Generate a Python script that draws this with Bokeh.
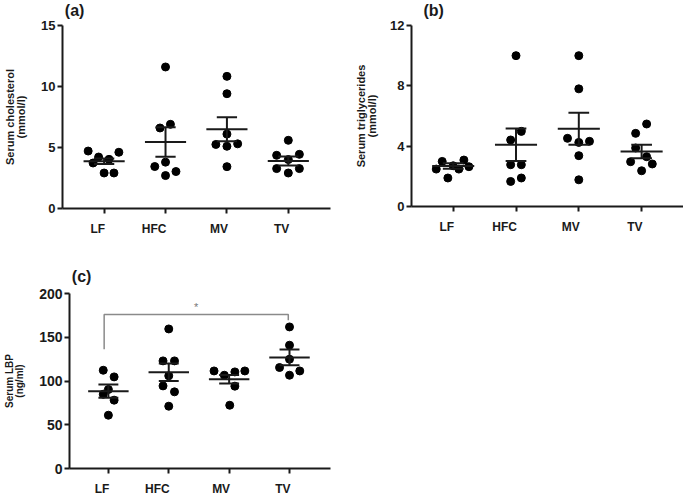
import numpy as np
from bokeh.plotting import figure
from bokeh.layouts import row, column
from bokeh.models import Range1d, FixedTicker, Label
from bokeh.core.properties import value
from bokeh.embed import file_html
from bokeh.resources import INLINE

# ---------------- data ----------------
groups = ["LF", "HFC", "MV", "TV"]

# (a) serum cholesterol (mmol/l)
chol_LF = [4.71, 3.73, 4.22, 4.03, 4.61, 2.91, 2.91]
chol_HFC = [11.6, 6.6, 6.9, 3.44, 3.8, 2.7, 3.03]
chol_MV = [10.83, 9.41, 6.1, 5.25, 5.1, 5.3, 3.43]
chol_TV = [5.59, 4.36, 4.44, 4.01, 3.27, 3.27, 2.91]
chol_mean = [3.87, 5.45, 6.49, 3.90]
chol_sem = [0.22, 1.2, 0.98, 0.37]
chol_ticks = [0, 5, 10, 15]

# (b) serum triglycerides (mmol/l)
tg_LF = [2.48, 2.99, 1.89, 2.70, 2.48, 3.08, 2.64]
tg_HFC = [10.0, 4.98, 4.41, 2.77, 2.77, 1.66, 1.89]
tg_MV = [10.0, 7.8, 4.52, 4.25, 4.32, 3.37, 1.77]
tg_TV = [5.47, 4.85, 3.88, 3.30, 2.97, 2.82, 2.37]
tg_mean = [2.68, 4.09, 5.15, 3.65]
tg_sem = [0.18, 1.08, 1.06, 0.45]
tg_ticks = [0, 4, 8, 12]

# (c) serum LBP (ng/ml)
lbp_LF = [112.3, 104.7, 90.3, 84.9, 78.1, 60.9]
lbp_HFC = [159.5, 123.0, 123.0, 105.9, 94.4, 87.6, 71.2]
lbp_MV = [111.5, 106.6, 110.4, 111.5, 94.1, 72.3]
lbp_TV = [161.8, 140.9, 124.9, 115.4, 111.5, 106.6]
lbp_mean = [88.4, 110.0, 102.0, 126.9]
lbp_sem = [7.6, 10.0, 4.8, 9.0]
lbp_ticks = [0, 50, 100, 150, 200]

# significance bracket LF vs TV (y levels in ng/ml)
sig_top = 176.0
sig_left_end = 136.4
sig_right_end = 169.5
sig_text = "*"

# horizontal scatter spread of the points (category units)
jit_a = [[-0.26, -0.18, -0.09, 0.08, 0.24, 0.0, 0.16],
         [0.0, -0.09, 0.08, -0.175, 0.0, 0.0, 0.17],
         [0.0, 0.0, 0.0, -0.18, 0.0, 0.175, 0.0],
         [0.0, -0.19, 0.18, 0.0, -0.19, 0.18, 0.0]]
jit_b = [[-0.27, -0.175, -0.085, 0.0, 0.09, 0.17, 0.25],
         [0.0, 0.085, -0.085, -0.085, 0.085, -0.085, 0.085],
         [0.0, 0.0, -0.18, 0.0, 0.17, 0.0, 0.0],
         [0.08, -0.095, -0.095, 0.08, -0.175, 0.17, 0.0]]
jit_c = [[-0.085, 0.095, 0.0, -0.085, 0.095, 0.0],
         [0.0, -0.095, 0.095, 0.0, -0.095, 0.095, 0.0],
         [-0.25, -0.08, 0.095, 0.26, 0.095, 0.01],
         [0.0, 0.0, 0.0, -0.165, 0.17, 0.0]]

FONT = "Liberation Sans"
INK = "#1a1a1a"


def blank(width, height, xr, yr, bl=0, br=0):
    f = figure(width=width, height=height, output_backend="svg",
               toolbar_location=None, x_range=xr, y_range=yr,
               min_border_left=bl, min_border_right=br, min_border_top=0,
               min_border_bottom=0, x_axis_location=None, y_axis_location=None)
    f.outline_line_color = None
    f.grid.visible = False
    f.background_fill_color = None
    f.border_fill_color = None
    return f


def make_panel(width, top_h, main_bt, frame_h, strip_h, bl, br, xr, yr, yticks,
               ytick_size, series, jit, means, sems, ytitle, ytitle_size,
               title_standoff, letter, letter_x, letter_y):
    xrange = Range1d(*xr)
    # strip above: panel letter
    top = blank(width, top_h, Range1d(0, width), Range1d(-top_h, 0))
    top.text([letter_x], [-letter_y], text=[letter], text_font=value(FONT),
             text_font_style="bold", text_font_size="16px", text_color=INK,
             text_align="left", text_baseline="top")

    main_bb = 8
    p = figure(width=width, height=main_bt + frame_h + main_bb,
               output_backend="svg", toolbar_location=None, x_range=xrange,
               y_range=Range1d(*yr), min_border_left=bl, min_border_right=br,
               min_border_top=main_bt, min_border_bottom=main_bb)
    p.outline_line_color = None
    p.xgrid.visible = False
    p.ygrid.visible = False
    p.background_fill_color = None
    p.border_fill_color = None

    for ax in (p.xaxis, p.yaxis):
        ax.axis_line_width = 2
        ax.axis_line_color = INK
        ax.major_tick_line_width = 2
        ax.major_tick_line_color = INK
        ax.major_tick_in = 0
        ax.major_tick_out = 5
        ax.minor_tick_line_color = None
        ax.major_label_text_font = FONT
        ax.major_label_text_font_style = "bold"
        ax.major_label_text_color = INK
        ax.major_label_standoff = 2
    p.yaxis.major_label_text_font_size = ytick_size
    p.xaxis.ticker = FixedTicker(ticks=[1, 2, 3, 4])
    p.xaxis.major_label_text_color = None
    p.xaxis.major_label_standoff = 0
    p.yaxis.ticker = FixedTicker(ticks=yticks)
    p.yaxis.axis_label = ytitle
    p.yaxis.axis_label_text_font = FONT
    p.yaxis.axis_label_text_font_style = "bold"
    p.yaxis.axis_label_text_font_size = ytitle_size
    p.yaxis.axis_label_text_line_height = 0.95
    p.yaxis.axis_label_text_color = INK
    p.yaxis.axis_label_standoff = title_standoff

    for i, (vals, dx) in enumerate(zip(series, jit)):
        xs = [i + 1 + d for d in dx]
        p.scatter(xs, vals, size=8, color="black", line_color="black")

    cx = np.arange(1, 5)
    m = np.array(means)
    s = np.array(sems)
    p.segment(cx - 0.335, m, cx + 0.335, m, line_width=2, line_color=INK)
    p.segment(cx, m - s, cx, m + s, line_width=2, line_color=INK)
    p.segment(cx - 0.165, m + s, cx + 0.165, m + s, line_width=2, line_color=INK)
    p.segment(cx - 0.165, m - s, cx + 0.165, m - s, line_width=2, line_color=INK)

    # strip below: category names under the ticks (angled in the original)
    frame_w = width - bl - br
    px_per_unit = frame_w / (xr[1] - xr[0])
    bot = blank(width, strip_h, xrange, Range1d(-strip_h, 0), bl, br)
    cat_x = [i + 1 + 1.0 / px_per_unit for i in range(len(groups))]
    bot.text(cat_x, [-(20.5 - main_bb)] * len(groups), text=groups,
             text_font=value(FONT), text_font_style="bold",
             text_font_size="12px", text_color=INK, text_align="right",
             text_baseline="middle")
    return p, column(top, p, bot)


pa, col_a = make_panel(340, 19, 6, 183, 30, 55, 10, (0.322, 4.687), (0, 15),
                       chol_ticks, "13px",
                       [chol_LF, chol_HFC, chol_MV, chol_TV], jit_a, chol_mean,
                       chol_sem, "Serum cholesterol\n(mmol/l)", "11px", 11,
                       "(a)", 3, 1)

pb, col_b = make_panel(343, 19, 6, 181, 32, 71, 0, (0.336, 4.667), (0, 12),
                       tg_ticks, "13px",
                       [tg_LF, tg_HFC, tg_MV, tg_TV], jit_b, tg_mean, tg_sem,
                       "Serum triglycerides\n(mmol/l)", "11px", 9,
                       "(b)", 15, 1)

pc, col_c = make_panel(340, 41, 6, 175, 28, 68, 10, (0.356, 4.679), (0, 200),
                       lbp_ticks, "14px",
                       [lbp_LF, lbp_HFC, lbp_MV, lbp_TV], jit_c, lbp_mean,
                       lbp_sem, "Serum LBP\n(ng/ml)", "10px", 11,
                       "(c)", 3, 21)

# significance bracket between LF (1) and TV (4)
i_l = groups.index("LF") + 1 - 0.07
i_r = groups.index("TV") + 1 - 0.02
pc.line([i_l, i_l, i_r, i_r], [sig_left_end, sig_top, sig_top, sig_right_end],
        line_width=1.5, line_color="#8a8a8a")
pc.add_layout(Label(x=(i_l + i_r) / 2, y=sig_top + 2, text=sig_text,
                    text_font=FONT, text_font_size="11px", text_color="#777777",
                    text_align="center", text_baseline="bottom"))

layout = column(row(col_a, col_b), col_c)
open("out.html", "w").write(file_html(layout, INLINE))
